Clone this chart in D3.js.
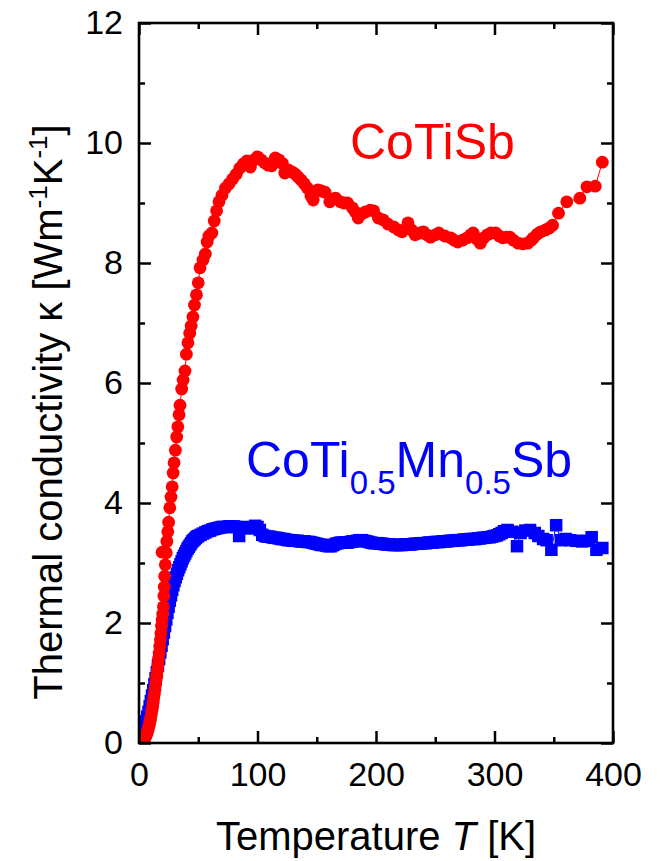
<!DOCTYPE html>
<html>
<head>
<meta charset="utf-8">
<script src="https://cdn.jsdelivr.net/npm/d3@7/dist/d3.min.js"></script>
<style>
  html, body { margin: 0; padding: 0; background: #fff; }
  svg { display: block; }
  text { font-family: "Liberation Sans", Arial, Helvetica, sans-serif; fill: #000; }
</style>
</head>
<body>
<svg id="chart" width="660" height="861"></svg>
<script>
// Thermal conductivity of CoTiSb (circles) and CoTi0.5Mn0.5Sb (squares), [T in K, kappa in W/mK]
const coTiSb = [
  [2,0.00],[2.5,0.01],[3,0.02],[3.5,0.03],[4,0.04],[4.5,0.06],[5,0.08],[5.5,0.10],[6,0.12],[6.5,0.15],
  [7,0.18],[7.5,0.21],[8,0.25],[8.5,0.29],[9,0.33],[9.5,0.38],[10,0.43],[10.5,0.49],[11,0.55],[11.5,0.61],
  [12,0.68],[12.5,0.75],[13,0.82],[13.5,0.89],[14,0.97],[14.5,1.05],[15,1.13],[15.5,1.21],[16,1.30],[16.5,1.40],
  [17,1.50],[17.5,1.61],[18,1.72],[18.5,1.83],[19,1.95],[19.5,2.05],[20,2.15],
  [20.6,2.27],[21.0,2.45],[21.3,2.60],[21.7,2.78],[22.2,2.97],[19.5,3.18],[23.0,3.17],[23.5,3.36],[24.3,3.52],
  [25.0,3.68],[26.0,3.92],[27.0,4.10],[28.0,4.27],[28.8,4.50],[29.6,4.67],[30.7,4.88],[31.8,5.10],[32.8,5.27],
  [33.8,5.47],[34.6,5.63],[36.0,5.90],[37.2,6.05],[38.8,6.20],[40.0,6.48],[41.3,6.67],[42.8,6.83],[44.0,6.95],
  [45.5,7.10],[46.8,7.30],[48.5,7.47],[50,7.67],[51.5,7.92],[54,8.05],[56,8.15],[57.5,8.35],[59,8.45],
  [61.5,8.50],[63.5,8.70],[65.5,8.87],[67.5,9.02],[70,9.13],[73,9.25],[76,9.32],[79,9.40],[82,9.48],[85,9.58],
  [88,9.65],[91,9.70],[94,9.60],[97,9.72],[100,9.77],[103,9.72],[106,9.67],[109,9.63],[112,9.62],[115,9.75],
  [118,9.72],[121,9.66],[123,9.50],[126,9.55],[129,9.52],[132,9.48],[134.5,9.43],[137,9.38],[139.5,9.32],
  [142,9.25],[145,9.12],[147,9.05],[151,9.22],[154,9.20],[157,9.18],[161,9.02],[164,9.07],[166,9.08],[170,9.02],
  [173,9.00],[176,9.00],[180,8.92],[182.5,8.85],[185,8.75],[188,8.82],[191,8.85],[195,8.88],[198,8.87],
  [202,8.75],[206,8.72],[210,8.65],[215,8.60],[219,8.55],[222,8.52],[227,8.67],[230,8.55],[233,8.47],
  [237,8.50],[240,8.52],[243,8.47],[246,8.43],[250,8.47],[253,8.50],[258,8.45],[263,8.42],[266,8.38],
  [269,8.35],[273,8.38],[277,8.42],[280,8.47],[282,8.50],[285,8.40],[288,8.33],[291,8.42],[294,8.47],
  [297,8.50],[301,8.50],[304,8.45],[307,8.42],[310,8.43],[313,8.43],[316,8.38],[320,8.33],[324,8.32],
  [328,8.33],[331,8.38],[333,8.42],[336,8.48],[339,8.52],[343,8.55],[346,8.58],[349,8.63],[354,8.83],
  [361,9.02],[372,9.08],[378,9.27],[385,9.28],[391,9.68]
];

const coTiMnSb = [
  [1,0.02],[2,0.08],[3,0.14],[4,0.21],[5,0.28],[6,0.36],[7,0.44],[8,0.52],[9,0.61],[10,0.70],
  [11,0.79],[12,0.88],[13,0.98],[14,1.08],[15,1.18],[16,1.29],[17,1.40],[18,1.51],[19,1.62],[20,1.73],
  [21,1.84],[22,1.95],[23,2.06],[24,2.17],[25,2.27],[26,2.37],[27,2.46],[28,2.55],[29,2.63],[30,2.70],
  [31,2.76],[32,2.82],[33,2.88],[34,2.93],[35,2.98],[36,3.03],[37,3.08],[38,3.12],[39,3.16],[40,3.20],
  [41,3.24],[42,3.27],[43,3.30],[44,3.33],[45,3.36],[46,3.38],[47,3.40],[48,3.42],[49,3.44],[50,3.45],
  [52,3.47],[54,3.49],[56,3.51],[58,3.53],[60,3.54],[62,3.56],[64,3.57],[66,3.58],[68,3.59],[70,3.60],
  [72,3.60],[74,3.60],[76,3.61],[78,3.61],[80,3.61],[82,3.60],[84.5,3.45],[86,3.60],[88,3.59],[90,3.59],
  [92,3.58],[94,3.58],[96,3.60],[98,3.62],[100,3.60],[102,3.55],[104,3.47],[106,3.45],[108,3.44],[110,3.44],
  [112,3.43],[114,3.42],[116,3.42],[118,3.41],[120,3.40],[122,3.40],[124,3.39],[126,3.38],[128,3.38],
  [130,3.37],[132,3.37],[134,3.37],[136,3.36],[138,3.36],[140,3.36],[142,3.35],[144,3.35],[146,3.34],
  [148,3.33],[150,3.32],[152,3.31],[154,3.30],[156,3.30],[158,3.29],[160,3.28],[162,3.28],[164,3.30],
  [166,3.32],[168,3.33],[170,3.34],[172,3.34],[174,3.34],[176,3.34],[178,3.35],[180,3.36],[182,3.36],
  [184,3.37],[186,3.38],[188,3.38],[190,3.37],[192,3.36],[194,3.35],[196,3.34],[198,3.33],[200,3.33],
  [202,3.33],[204,3.32],[206,3.32],[208,3.31],[210,3.31],[212,3.31],[214,3.30],[216,3.30],[218,3.30],
  [220,3.30],[222,3.30],[224,3.31],[226,3.31],[228,3.31],[230,3.31],[232,3.32],[234,3.32],[236,3.32],
  [238,3.33],[240,3.33],[242,3.33],[244,3.34],[246,3.34],[248,3.34],[250,3.35],[252,3.35],[254,3.35],
  [256,3.36],[258,3.36],[260,3.36],[262,3.37],[264,3.37],[266,3.37],[268,3.38],[270,3.38],[272,3.38],
  [274,3.39],[276,3.39],[278,3.39],[280,3.40],[282,3.40],[284,3.40],[286,3.41],[288,3.41],[290,3.42],
  [292,3.42],[294,3.43],[296,3.43],[298,3.44],[300,3.45],[302,3.46],[304,3.48],[306,3.50],
  [308,3.53],[311,3.55],[315,3.52],[319,3.28],[322,3.50],[326,3.54],[330,3.55],[334,3.50],[337,3.45],
  [341,3.40],[344,3.38],[348,3.22],[352,3.63],[356,3.38],[360,3.40],[364,3.38],[369,3.37],[374,3.36],
  [379,3.37],[382,3.43],[386,3.22],[391,3.25]
];

const xMajorTicks = [0, 100, 200, 300, 400];
const xMinorTicks = [50, 150, 250, 350];
const yMajorTicks = [0, 2, 4, 6, 8, 10, 12];
const yMinorTicks = [1, 3, 5, 7, 9, 11];

const margin = { left: 139, right: 47, top: 23, bottom: 118 };
const W = 660, H = 861;
const innerW = W - margin.left - margin.right;
const innerH = H - margin.top - margin.bottom;

const x = d3.scaleLinear().domain([0, 400]).range([0, innerW]);
const y = d3.scaleLinear().domain([0, 12]).range([innerH, 0]);

const svg = d3.select("#chart");
const g = svg.append("g").attr("transform", `translate(${margin.left},${margin.top})`);

const red = "#ff0000", blue = "#0000ff";

// Clip the series to the frame
g.append("defs").append("clipPath").attr("id", "plotClip")
  .append("rect").attr("x", 0).attr("y", 0).attr("width", innerW).attr("height", innerH);
const plot = g.append("g").attr("clip-path", "url(#plotClip)");

const line = d3.line().x(d => x(d[0])).y(d => y(d[1]));

// CoTi0.5Mn0.5Sb: thin connecting line + squares
const sq = 12.5;
plot.append("path").datum(coTiMnSb).attr("d", line)
  .attr("fill", "none").attr("stroke", blue).attr("stroke-width", 1);
plot.append("g").selectAll("rect").data(coTiMnSb).join("rect")
  .attr("x", d => x(d[0]) - sq / 2).attr("y", d => y(d[1]) - sq / 2)
  .attr("width", sq).attr("height", sq).attr("fill", blue);

// CoTiSb: thin connecting line + circles
plot.append("path").datum(coTiSb).attr("d", line)
  .attr("fill", "none").attr("stroke", red).attr("stroke-width", 1);
plot.append("g").selectAll("circle").data(coTiSb).join("circle")
  .attr("cx", d => x(d[0])).attr("cy", d => y(d[1]))
  .attr("r", 6.4).attr("fill", red);

// Axes: ticks point inward on all four sides
const tickW = 2.5;
function styleAxis(sel) {
  sel.select(".domain").remove();
  sel.selectAll(".tick line").attr("stroke", "#000").attr("stroke-width", tickW);
  sel.selectAll(".tick text").attr("font-size", 34).attr("fill", "#000")
    .style("font-family", "'Liberation Sans', Arial, sans-serif");
}

g.append("g").attr("transform", `translate(0,${innerH})`)
  .call(d3.axisBottom(x).tickValues(xMajorTicks).tickFormat(d3.format("d"))
    .tickSizeInner(-12).tickSizeOuter(0).tickPadding(19))
  .call(styleAxis);
g.append("g").attr("transform", `translate(0,${innerH})`)
  .call(d3.axisBottom(x).tickValues(xMinorTicks).tickFormat("").tickSizeInner(-6).tickSizeOuter(0))
  .call(styleAxis);
g.append("g")
  .call(d3.axisTop(x).tickValues(xMajorTicks).tickFormat("").tickSizeInner(-12).tickSizeOuter(0))
  .call(styleAxis);
g.append("g")
  .call(d3.axisTop(x).tickValues(xMinorTicks).tickFormat("").tickSizeInner(-6).tickSizeOuter(0))
  .call(styleAxis);

g.append("g")
  .call(d3.axisLeft(y).tickValues(yMajorTicks).tickFormat(d3.format("d"))
    .tickSizeInner(-12).tickSizeOuter(0).tickPadding(16))
  .call(styleAxis);
g.append("g")
  .call(d3.axisLeft(y).tickValues(yMinorTicks).tickFormat("").tickSizeInner(-6).tickSizeOuter(0))
  .call(styleAxis);
g.append("g").attr("transform", `translate(${innerW},0)`)
  .call(d3.axisRight(y).tickValues(yMajorTicks).tickFormat("").tickSizeInner(-12).tickSizeOuter(0))
  .call(styleAxis);
g.append("g").attr("transform", `translate(${innerW},0)`)
  .call(d3.axisRight(y).tickValues(yMinorTicks).tickFormat("").tickSizeInner(-6).tickSizeOuter(0))
  .call(styleAxis);

// Frame
g.append("rect").attr("x", 0).attr("y", 0).attr("width", innerW).attr("height", innerH)
  .attr("fill", "none").attr("stroke", "#000").attr("stroke-width", 2.6);

// Axis titles
const xt = svg.append("text")
  .attr("x", margin.left + innerW / 2).attr("y", 850)
  .attr("text-anchor", "middle").attr("font-size", 40);
xt.append("tspan").text("Temperature ");
xt.append("tspan").attr("font-style", "italic").text("T");
xt.append("tspan").text(" [K]");

const yt = svg.append("text")
  .attr("transform", "translate(62,412) rotate(-90)")
  .attr("text-anchor", "middle").attr("font-size", 40);
yt.append("tspan").text("Thermal conductivity κ [Wm");
yt.append("tspan").attr("font-size", 26).attr("dy", -15).text("-1");
yt.append("tspan").attr("dy", 15).text("K");
yt.append("tspan").attr("font-size", 26).attr("dy", -15).text("-1");
yt.append("tspan").attr("dy", 15).text("]");

// Series labels
svg.append("text").attr("x", 350).attr("y", 159)
  .attr("font-size", 50).style("fill", red).text("CoTiSb");

const bl = svg.append("text").attr("x", 246).attr("y", 477)
  .attr("font-size", 50).style("fill", blue);
bl.append("tspan").text("CoTi");
bl.append("tspan").attr("font-size", 33).attr("dy", 17).text("0.5");
bl.append("tspan").attr("dy", -17).text("Mn");
bl.append("tspan").attr("font-size", 33).attr("dy", 17).text("0.5");
bl.append("tspan").attr("dy", -17).text("Sb");
</script>
</body>
</html>
